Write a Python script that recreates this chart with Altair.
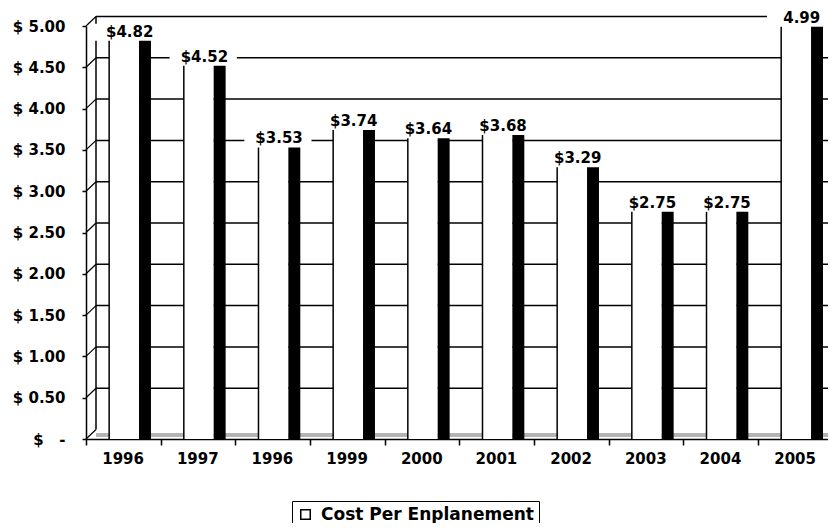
import altair as alt
import pandas as pd

# ---- data ----
years = ["1996", "1997", "1996", "1999", "2000", "2001", "2002", "2003", "2004", "2005"]
values = [4.82, 4.52, 3.53, 3.74, 3.64, 3.68, 3.29, 2.75, 2.75, 4.99]
value_labels = ["$4.82", "$4.52", "$3.53", "$3.74", "$3.64", "$3.68", "$3.29", "$2.75", "$2.75", "4.99"]
y_tick_values = [0.0, 0.5, 1.0, 1.5, 2.0, 2.5, 3.0, 3.5, 4.0, 4.5, 5.0]
series_name = "Cost Per Enplanement"

bars = pd.DataFrame({
    "idx": list(range(len(years))),
    "value": values,
    "label": value_labels,
    "series": [series_name] * len(years),
})
grid = pd.DataFrame({"tick": y_tick_values})

# ---- layout ----
PLOT_W, PLOT_H = 742, 413
PITCH = 74.67
XMAX = PLOT_W / PITCH
DEPTH_X = 10 / PITCH     # back wall offset (category units)
DEPTH_Y = -9.5           # back wall offset (px)
FONT = "DejaVu Sans"

xscale = alt.Scale(domain=[0, XMAX], nice=False, zero=False)
yscale = alt.Scale(domain=[0, 5], nice=False, zero=True)

year_expr = "[" + ",".join("'%s'" % y for y in years) + "][round(datum.value)]"
xaxis = alt.Axis(
    values=list(range(len(years))), labelExpr=year_expr, title=None, grid=False,
    tickSize=6, tickWidth=1.5, tickColor="black", domainColor="black", domainWidth=1.5,
    labelOffset=0.49 * PITCH, labelFlush=False, labelOverlap=False, labelAlign="center",
    labelFont=FONT, labelFontSize=15, labelFontWeight="bold", labelColor="black", labelPadding=6,
)
zero_label = "$\u00a0\u00a0\u00a0-\u00a0\u00a0\u00a0\u00a0"
yaxis = alt.Axis(
    values=y_tick_values,
    labelExpr="datum.value == 0 ? '%s' : '$ ' + format(datum.value, '.2f')" % zero_label,
    title=None, grid=False, tickSize=4, tickWidth=1.5, tickColor="black",
    domainColor="black", domainWidth=1.5, labelPadding=17,
    labelFont=FONT, labelFontSize=15, labelFontWeight="bold", labelColor="black",
)

def X(field):
    return alt.X(field, scale=xscale, axis=xaxis)

def Y(field):
    return alt.Y(field, scale=yscale, axis=yaxis)

def XD(v):
    return alt.XDatum(v, scale=xscale, axis=xaxis)

# floor strip
floor = alt.Chart(grid).transform_filter("datum.tick == 0").mark_rect(
    fill="#b4b4b4", yOffset=-6, y2Offset=-2
).encode(x=XD(DEPTH_X), x2=alt.X2Datum(XMAX), y=Y("tick:Q"), y2="tick:Q")

# back-wall gridlines
gridlines = alt.Chart(grid).transform_filter("datum.tick > 0").mark_rule(
    color="black", strokeWidth=1.5, yOffset=DEPTH_Y
).encode(x=XD(DEPTH_X), x2=alt.X2Datum(XMAX), y=Y("tick:Q"))

# side-wall connectors
connectors = alt.Chart(grid).mark_rule(
    color="black", strokeWidth=1.2, yOffset=0, y2Offset=DEPTH_Y
).encode(x=XD(0), x2=alt.X2Datum(DEPTH_X), y=Y("tick:Q"), y2="tick:Q")

# back wall left edge
backwall = alt.Chart(grid).mark_rule(
    color="black", strokeWidth=1.5, yOffset=DEPTH_Y, y2Offset=DEPTH_Y
).encode(x=XD(DEPTH_X), y=Y("min(tick):Q"), y2="max(tick):Q")

base = alt.Chart(bars).transform_calculate(
    f0="datum.idx + 0.31", f1="datum.idx + 0.71", s1="datum.idx + 0.87",
    mid="datum.idx + 0.585", b0="datum.idx + 0.12", b1="datum.idx + 1.02",
)

label_boxes = base.mark_rect(fill="white", yOffset=-17, y2Offset=0).encode(
    x=X("b0:Q"), x2="b1:Q", y=Y("value:Q"), y2="value:Q"
)

front = base.mark_rect(strokeWidth=0).encode(
    x=X("f0:Q"), x2="f1:Q", y=Y("value:Q"), y2=alt.Y2Datum(0),
    color=alt.Color(
        "series:N", scale=alt.Scale(range=["white"]),
        legend=alt.Legend(
            title=None, orient="none", legendX=206, legendY=475,
            symbolType="square", symbolSize=90, symbolStrokeColor="black",
            symbolStrokeWidth=1.5, symbolFillColor="white",
            labelFont=FONT, labelFontSize=17, labelFontWeight="bold", labelColor="black",
            labelLimit=600, strokeColor="black", fillColor="white", padding=5, labelOffset=7,
        ),
    ),
)

front_edge = base.mark_rule(color="black", strokeWidth=1.5).encode(
    x=X("f0:Q"), y=Y("value:Q"), y2=alt.Y2Datum(0)
)

side = base.mark_rect(fill="black").encode(
    x=X("f1:Q"), x2="s1:Q", y=Y("value:Q"), y2=alt.Y2Datum(0)
)

texts = base.mark_text(
    font=FONT, fontSize=15, fontWeight="bold", color="black",
    baseline="alphabetic", align="center", dy=-4,
).encode(x=X("mid:Q"), y=Y("value:Q"), text="label:N")

chart = alt.layer(
    floor, gridlines, connectors, backwall, label_boxes, front, front_edge, side, texts
).properties(
    width=PLOT_W, height=PLOT_H,
    padding={"left": 78, "top": 18, "right": 0, "bottom": 84},
    autosize="none", background="white",
).configure_view(stroke=None)

chart.save("out.html", embed_options={"renderer": "svg", "actions": False})
